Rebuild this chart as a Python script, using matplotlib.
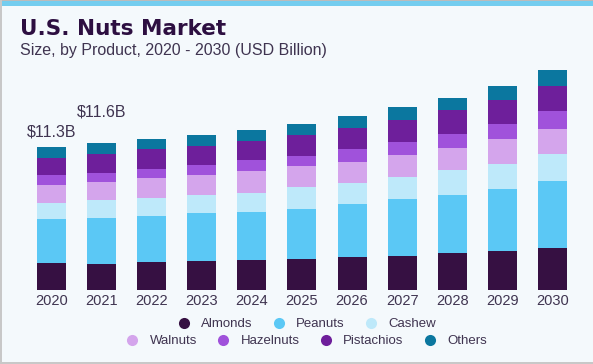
import matplotlib
matplotlib.use("Agg")
import matplotlib.pyplot as plt
from matplotlib.lines import Line2D
from matplotlib.patches import Rectangle
import numpy as np

years = ["2020", "2021", "2022", "2023", "2024", "2025", "2026", "2027", "2028", "2029", "2030"]
series_names = ["Almonds", "Peanuts", "Cashew", "Walnuts", "Hazelnuts", "Pistachios", "Others"]
almonds    = [2.10, 2.06, 2.21, 2.31, 2.34, 2.42, 2.58, 2.68, 2.94, 3.08, 3.29]
peanuts    = [3.47, 3.66, 3.63, 3.74, 3.83, 3.99, 4.20, 4.47, 4.55, 4.91, 5.31]
cashew     = [1.31, 1.40, 1.45, 1.42, 1.53, 1.69, 1.68, 1.78, 1.97, 2.00, 2.15]
walnuts    = [1.45, 1.45, 1.58, 1.58, 1.70, 1.68, 1.66, 1.71, 1.76, 1.94, 2.00]
hazelnuts  = [0.74, 0.71, 0.69, 0.81, 0.84, 0.79, 0.98, 1.05, 1.08, 1.18, 1.36]
pistachios = [1.39, 1.46, 1.55, 1.55, 1.55, 1.71, 1.66, 1.77, 1.89, 1.92, 2.00]
others     = [0.84, 0.87, 0.81, 0.87, 0.81, 0.84, 0.97, 0.99, 0.97, 1.10, 1.24]
annot_years = ["2020", "2021"]
annot_labels = ["$11.3B", "$11.6B"]

colors = ["#361042", "#5BC8F5", "#BEE9FA", "#D4A5EC", "#A052DB", "#6E1F9B", "#0B779F"]
data = [almonds, peanuts, cashew, walnuts, hazelnuts, pistachios, others]

W, H = 593, 364
fig = plt.figure(figsize=(W / 100, H / 100), dpi=100)
fig.patch.set_facecolor("#F4F9FC")

# frame decorations
fig.add_artist(Rectangle((0, 1 - 6 / H), 1, 5 / H, transform=fig.transFigure,
                         facecolor="#74CDEF", edgecolor="none"))
fig.add_artist(Rectangle((0, 1 - 1 / H), 1, 1 / H, transform=fig.transFigure,
                         facecolor="#BBBBBB", edgecolor="none"))
fig.add_artist(Rectangle((0, 0), 2 / W, 1, transform=fig.transFigure,
                         facecolor="#C8C8C8", edgecolor="none"))
fig.add_artist(Rectangle((0, 0), 1, 2 / H, transform=fig.transFigure,
                         facecolor="#C8C8C8", edgecolor="none"))

ax = fig.add_axes([26.45 / W, (H - 290) / H, 551 / W, 230 / H])
ax.set_facecolor("none")
x = np.arange(len(years))
bottom = np.zeros(len(years))
for name, vals, c in zip(series_names, data, colors):
    ax.bar(x, vals, bottom=bottom, width=0.58, color=c, label=name, linewidth=0)
    bottom += np.array(vals)

ax.set_xlim(-0.5, len(years) - 0.5)
ax.set_ylim(0, 230 / 12.66)
for s in ax.spines.values():
    s.set_visible(False)
ax.set_yticks([])
ax.set_xticks(x)
ax.set_xticklabels(years, fontsize=10.5, color="#3F3450", family="Liberation Sans")
ax.tick_params(axis="x", length=0, pad=3)

offsets = [11, 22]
for yr, lab, off in zip(annot_years, annot_labels, offsets):
    i = years.index(yr)
    ax.annotate(lab, (x[i], bottom[i]), xytext=(0, off), textcoords="offset points",
                ha="center", va="center", fontsize=11.5, color="#3F3450",
                family="Liberation Sans")

fig.text(20 / W, 1 - 29 / H, "U.S. Nuts Market", fontsize=15.5, fontweight="heavy",
         color="#2D0F41", family="DejaVu Sans", va="center", ha="left")
fig.text(20 / W, 1 - 50 / H, "Size, by Product, 2020 - 2030 (USD Billion)", fontsize=11.5,
         color="#3F3450", family="Liberation Sans", va="center", ha="left")

def handles(idx):
    return [Line2D([], [], marker="o", linestyle="none", markersize=8,
                   markerfacecolor=colors[i], markeredgecolor="none") for i in idx]

row1 = [0, 1, 2]
row2 = [3, 4, 5, 6]
leg1 = fig.legend(handles(row1), [series_names[i] for i in row1], ncol=3,
                  loc="center", bbox_to_anchor=(303 / W, 1 - 324 / H), frameon=False,
                  handletextpad=0.3, columnspacing=1.0,
                  prop={"family": "Liberation Sans", "size": 9.5})
for t in leg1.get_texts():
    t.set_color("#3F3450")
leg2 = fig.legend(handles(row2), [series_names[i] for i in row2], ncol=4,
                  loc="center", bbox_to_anchor=(303 / W, 1 - 341 / H), frameon=False,
                  handletextpad=0.3, columnspacing=1.0,
                  prop={"family": "Liberation Sans", "size": 9.5})
for t in leg2.get_texts():
    t.set_color("#3F3450")

fig.savefig("out.png", dpi=100, facecolor=fig.get_facecolor())
